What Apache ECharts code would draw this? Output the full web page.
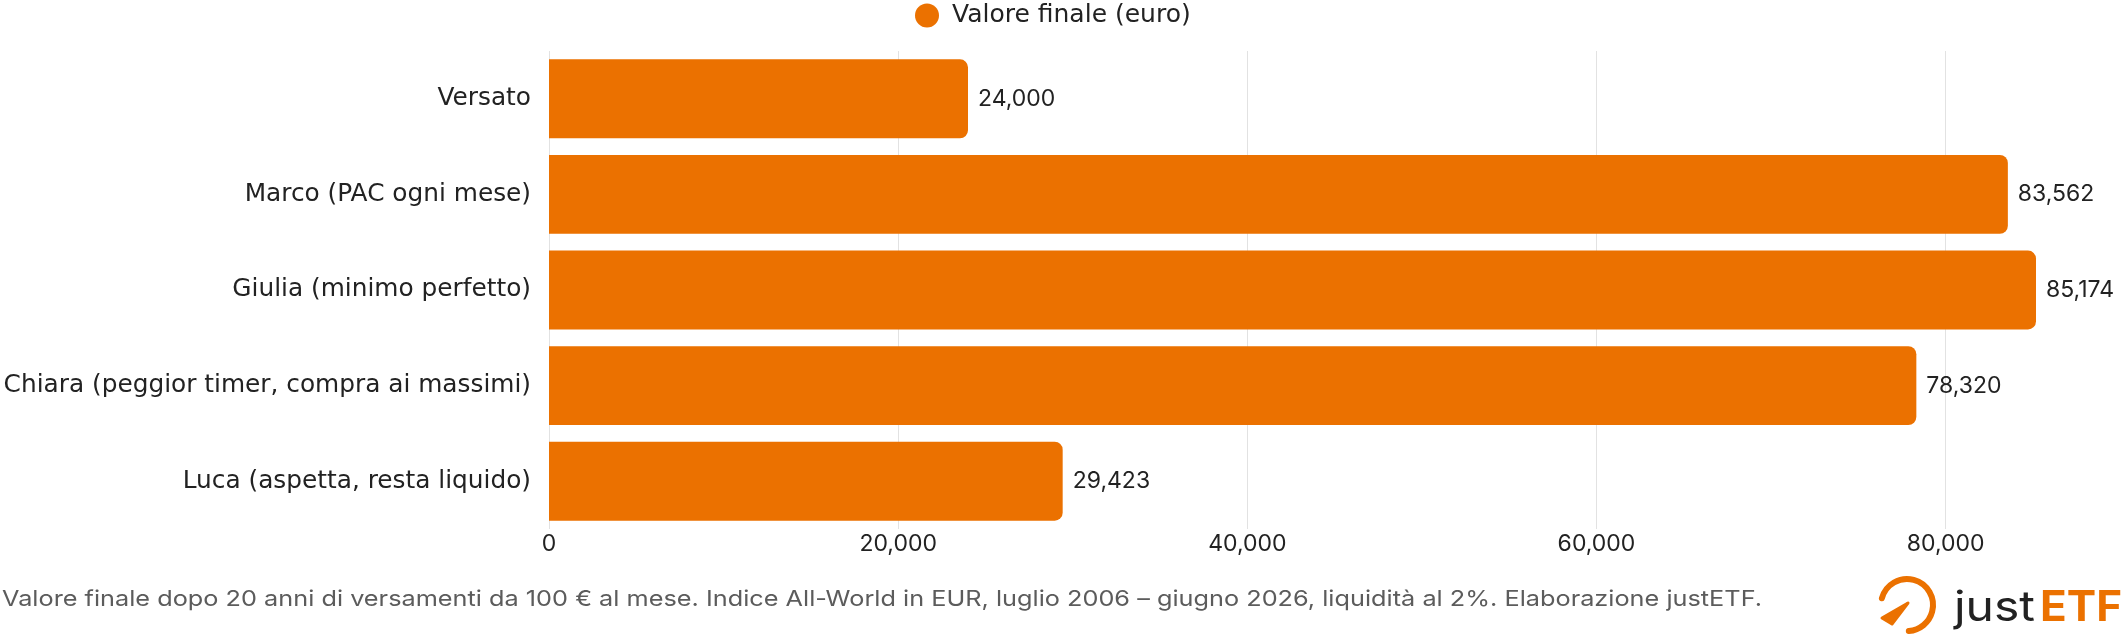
<!DOCTYPE html>
<html>
<head>
<meta charset="utf-8" />
<title>Valore finale dopo 20 anni - justETF</title>
<script src="https://cdn.jsdelivr.net/npm/echarts@6.0.0/dist/echarts.min.js"></script>
<style>
    html, body { margin: 0; padding: 0; background: #fff; }
</style>
</head>
<body>
<div id="main" style="width: 2125px; height: 638px;"></div>
<script type="text/javascript">
    // dati
    var categories = [
        'Versato',
        'Marco (PAC ogni mese)',
        'Giulia (minimo perfetto)',
        'Chiara (peggior timer, compra ai massimi)',
        'Luca (aspetta, resta liquido)'
    ];
    var values = [24000, 83562, 85174, 78320, 29423];
    var xTicks = [0, 20000, 40000, 60000, 80000];
    var seriesName = 'Valore finale (euro)';
    var note = 'Valore finale dopo 20 anni di versamenti da 100 € al mese. Indice All-World in EUR, luglio 2006 – giugno 2026, liquidità al 2%. Elaborazione justETF.';

    var orange = '#eb7100';
    var font = 'Inter';
    var wideFont = 'DejaVu Sans';
    var fmt = function (v) { return Number(v).toLocaleString('en-US'); };

    // fattore di scala orizzontale per far combaciare la larghezza del testo
    var ctx = document.createElement('canvas').getContext('2d');
    function fitScale(text, fontStr, target) {
        ctx.font = fontStr;
        return target / ctx.measureText(text).width;
    }

    var chart = echarts.init(document.getElementById('main'));

    var option = {
        backgroundColor: '#fff',
        animation: false,
        legend: {
            data: [seriesName],
            left: 915,
            top: 3,
            padding: 0,
            icon: 'circle',
            itemWidth: 24,
            itemHeight: 24,
            textStyle: { fontFamily: wideFont, fontSize: 25, color: '#222', padding: [0, 0, 0, 8] }
        },
        grid: {
            left: 549,
            right: 89,
            top: 51,
            bottom: 109,
            containLabel: false
        },
        xAxis: {
            type: 'value',
            min: 0,
            max: 'dataMax',
            axisLine: { show: false },
            axisTick: { show: false, customValues: xTicks },
            axisLabel: {
                customValues: xTicks,
                formatter: fmt,
                margin: 4,
                fontFamily: font,
                fontSize: 23,
                color: '#222'
            },
            splitLine: { lineStyle: { color: '#e2e2e2', width: 1 } }
        },
        yAxis: {
            type: 'category',
            inverse: true,
            data: categories,
            axisLine: { show: false },
            axisTick: { show: false },
            axisLabel: {
                margin: 18,
                fontFamily: wideFont,
                fontSize: 24.8,
                color: '#222'
            }
        },
        series: [
            {
                name: seriesName,
                type: 'bar',
                data: values,
                barCategoryGap: '17.5%',
                itemStyle: { color: orange, borderRadius: [0, 8, 8, 0] },
                label: {
                    show: true,
                    position: 'right',
                    distance: 10,
                    formatter: function (p) { return fmt(p.value); },
                    fontFamily: font,
                    fontSize: 23,
                    color: '#222'
                }
            }
        ],
        graphic: [
            {
                type: 'text',
                x: 2,
                y: 599,
                scaleX: fitScale(note, '22px Inter', 1760),
                style: { text: note, fontFamily: font, fontSize: 22, fill: '#5c5c5c', verticalAlign: 'middle' }
            },
            // logo justETF
            {
                type: 'arc',
                shape: { cx: 1907, cy: 605, r: 26, startAngle: 195 * Math.PI / 180, endAngle: 446 * Math.PI / 180, clockwise: true },
                style: { stroke: orange, lineWidth: 6, fill: null, lineCap: 'round' }
            },
            {
                type: 'polygon',
                shape: { points: [[1908, 603], [1882, 618], [1892, 624]] },
                style: { fill: orange, stroke: orange, lineWidth: 3, lineJoin: 'round' }
            },
            {
                type: 'text',
                x: 1954,
                y: 608,
                scaleX: fitScale('just', '42px Inter', 81),
                style: { text: 'just', fontFamily: font, fontSize: 42, fill: '#222', verticalAlign: 'middle' }
            },
            {
                type: 'text',
                x: 2040,
                y: 608,
                scaleX: fitScale('ETF', 'bold 42px Inter', 82),
                style: { text: 'ETF', fontFamily: font, fontSize: 42, fontWeight: 'bold', fill: orange, verticalAlign: 'middle' }
            }
        ]
    };

    chart.setOption(option);
</script>
</body>
</html>
